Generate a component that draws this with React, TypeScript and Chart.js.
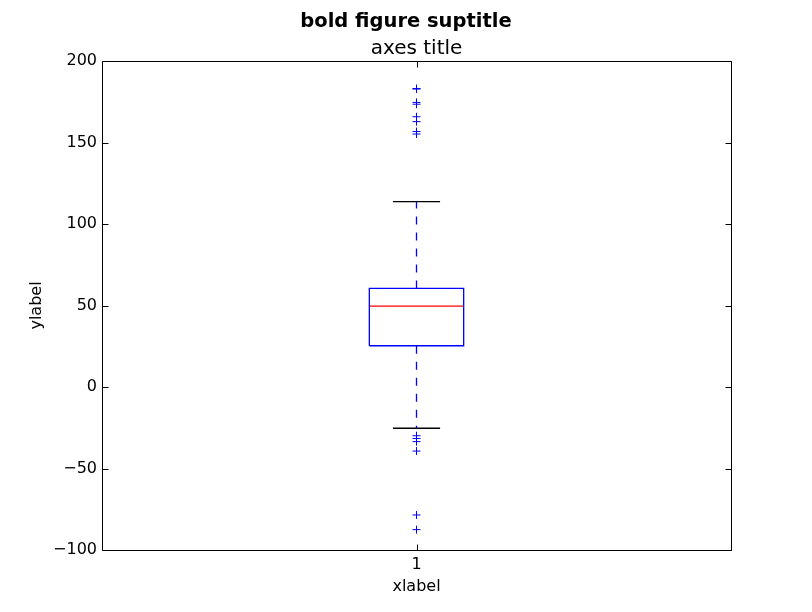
import { useEffect, useRef } from "react";
import { Chart, registerables } from "chart.js";

Chart.register(...registerables);

// ---- data ----
const categories = ["1"];
const q1 = [25.3];
const medians = [49.6];
const q3 = [60.5];
const whiskerLow = [-25.3];
const whiskerHigh = [113.7];
const outliersHigh = [183.1, 182.8, 174.6, 173.5, 165.8, 162.8, 156.7, 155.2];
const outliersLow = [-29.9, -31.6, -33.5, -39.3, -78.5, -87.5];
const yTickValues = [-100, -50, 0, 50, 100, 150, 200];

const suptitle = "bold figure suptitle";
const axesTitle = "axes title";
const xLabel = "xlabel";
const yLabel = "ylabel";

const FONT = "'DejaVu Sans', sans-serif";
const BLUE = "#0000ff";
const LW = 1.3;

export default function App() {
  const ref = useRef<HTMLCanvasElement | null>(null);

  useEffect(() => {
    if (!ref.current) return;
    document.body.style.margin = "0";
    const boxHalf = 0.075;
    const capHalf = 0.0375;
    const datasets: any[] = [];
    categories.forEach((_, i) => {
      const p = i + 1;
      datasets.push({
        label: "box",
        data: [
          { x: p - boxHalf, y: q1[i] },
          { x: p + boxHalf, y: q1[i] },
          { x: p + boxHalf, y: q3[i] },
          { x: p - boxHalf, y: q3[i] },
          { x: p - boxHalf, y: q1[i] },
        ],
        showLine: true,
        borderColor: BLUE,
        borderWidth: LW,
        pointRadius: 0,
      });
      datasets.push({
        label: "median",
        data: [
          { x: p - boxHalf, y: medians[i] },
          { x: p + boxHalf, y: medians[i] },
        ],
        showLine: true,
        borderColor: "#ff0000",
        borderWidth: LW,
        pointRadius: 0,
      });
      datasets.push({
        label: "whiskerHigh",
        data: [
          { x: p, y: q3[i] },
          { x: p, y: whiskerHigh[i] },
        ],
        showLine: true,
        borderColor: BLUE,
        borderWidth: LW,
        borderDash: [8, 8],
        pointRadius: 0,
      });
      datasets.push({
        label: "whiskerLow",
        data: [
          { x: p, y: q1[i] },
          { x: p, y: whiskerLow[i] },
        ],
        showLine: true,
        borderColor: BLUE,
        borderWidth: LW,
        borderDash: [8, 8],
        pointRadius: 0,
      });
      datasets.push({
        label: "capHigh",
        data: [
          { x: p - capHalf, y: whiskerHigh[i] },
          { x: p + capHalf, y: whiskerHigh[i] },
        ],
        showLine: true,
        borderColor: "#000000",
        borderWidth: LW,
        pointRadius: 0,
      });
      datasets.push({
        label: "capLow",
        data: [
          { x: p - capHalf, y: whiskerLow[i] },
          { x: p + capHalf, y: whiskerLow[i] },
        ],
        showLine: true,
        borderColor: "#000000",
        borderWidth: LW,
        pointRadius: 0,
      });
      datasets.push({
        label: "outliers",
        data: [...outliersHigh, ...outliersLow].map((v) => ({ x: p, y: v })),
        showLine: false,
        pointStyle: "cross",
        pointRadius: 4,
        pointBorderColor: BLUE,
        pointBorderWidth: 1,
        pointBackgroundColor: BLUE,
      });
    });

    const decor = {
      id: "decor",
      afterDraw(chart: any) {
        const { ctx, chartArea, scales } = chart;
        const { left, right, top, bottom } = chartArea;
        const xs = scales.x;
        const ys = scales.y;
        ctx.save();
        ctx.strokeStyle = "#000";
        ctx.lineWidth = 1;
        const L = Math.round(left) + 0.5;
        const R = Math.round(right) + 0.5;
        const T = Math.round(top) + 0.5;
        const B = Math.round(bottom) + 0.5;
        ctx.beginPath();
        ctx.rect(L, T, R - L, B - T);
        ctx.stroke();
        const tl = 6;
        ctx.beginPath();
        ys.ticks.forEach((t: any) => {
          const py = Math.round(ys.getPixelForValue(t.value)) + 0.5;
          ctx.moveTo(L, py);
          ctx.lineTo(L + tl, py);
          ctx.moveTo(R, py);
          ctx.lineTo(R - tl, py);
        });
        xs.ticks.forEach((t: any) => {
          const px = Math.round(xs.getPixelForValue(t.value)) + 0.5;
          ctx.moveTo(px, B);
          ctx.lineTo(px, B - tl);
          ctx.moveTo(px, T);
          ctx.lineTo(px, T + tl);
        });
        ctx.stroke();

        ctx.fillStyle = "#000";
        ctx.textAlign = "center";
        ctx.textBaseline = "middle";
        ctx.font = `bold 19.5px ${FONT}`;
        ctx.fillText(suptitle, chart.width / 2, 22);
        ctx.font = `20px ${FONT}`;
        ctx.fillText(axesTitle, (left + right) / 2, top - 12);
        ctx.font = `16px ${FONT}`;
        ctx.fillText(xLabel, (left + right) / 2, bottom + 37);
        ctx.save();
        ctx.translate(37, (top + bottom) / 2);
        ctx.rotate(-Math.PI / 2);
        ctx.fillText(yLabel, 0, 0);
        ctx.restore();
        ctx.restore();
      },
    };

    const chart = new Chart(ref.current, {
      type: "scatter",
      data: { datasets },
      options: {
        animation: false,
        responsive: false,
        devicePixelRatio: 1,
        layout: { padding: { left: 32, right: 81, top: 61, bottom: 22 } },
        plugins: { legend: { display: false }, tooltip: { enabled: false }, title: { display: false } },
        scales: {
          x: {
            type: "linear",
            min: 0.5,
            max: categories.length + 0.5,
            grid: { display: false, drawTicks: false },
            border: { display: false },
            afterBuildTicks: (scale: any) => {
              scale.ticks = categories.map((_, i) => ({ value: i + 1 }));
            },
            afterFit: (scale: any) => {
              scale.height = 40;
            },
            ticks: {
              padding: 5,
              color: "#000",
              font: { family: FONT, size: 16 },
              callback: (v: any) => {
                const idx = Math.round(Number(v)) - 1;
                return categories[idx] ?? "";
              },
            },
          },
          y: {
            type: "linear",
            min: yTickValues[0],
            max: yTickValues[yTickValues.length - 1],
            grid: { display: false, drawTicks: false },
            border: { display: false },
            afterBuildTicks: (scale: any) => {
              scale.ticks = yTickValues.map((v) => ({ value: v }));
            },
            afterFit: (scale: any) => {
              scale.width = 70;
            },
            ticks: {
              padding: 5,
              color: "#000",
              font: { family: FONT, size: 16 },
              callback: (v: any) => {
                const n = Number(v);
                return n < 0 ? "\u2212" + Math.abs(n) : String(n);
              },
            },
          },
        },
      },
      plugins: [decor],
    });
    return () => chart.destroy();
  }, []);

  return (
    <canvas
      ref={ref}
      width={812}
      height={612}
      style={{ position: "fixed", left: 0, top: 0, width: 812, height: 612 }}
    />
  );
}
